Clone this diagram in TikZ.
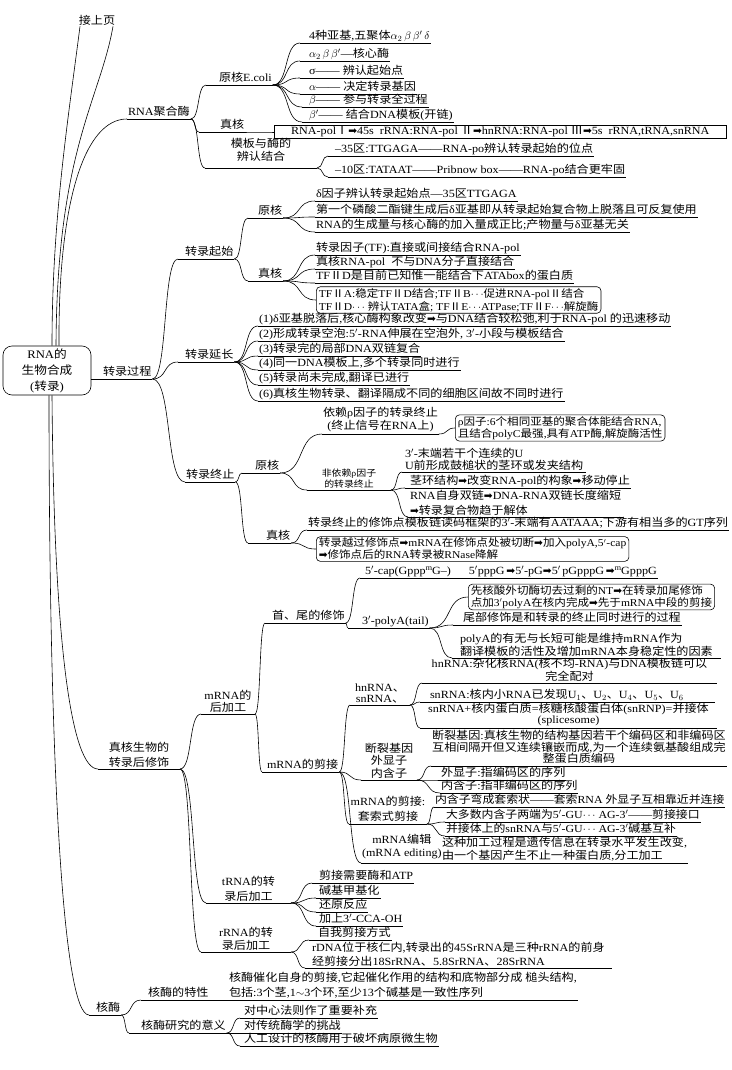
\documentclass[tikz,border=0pt]{standalone}
\usepackage{fontspec}
\setmainfont{Liberation Serif}[FakeStretch=1.1]
\newfontfamily\cjkfont{Noto Sans CJK SC}[FakeStretch=1.1]
\newfontfamily\symfont{DejaVu Sans}
\usetikzlibrary{calc}
\XeTeXinterchartokenstate=1
\chardef\cjkclass=17
\makeatletter
\newcommand\setcjkrange[2]{\count@=#1\relax
 \loop\XeTeXcharclass\count@=\cjkclass\relax
 \ifnum\count@<#2\relax\advance\count@ by 1\relax\repeat}
\makeatother
\setcjkrange{"2160}{"217F}
\setcjkrange{"3000}{"303F}
\setcjkrange{"4E00}{"9FFF}
\setcjkrange{"FF00}{"FFEF}
\XeTeXinterchartoks 0 \cjkclass = {\cjkfont}
\XeTeXinterchartoks 4095 \cjkclass = {\cjkfont}
\XeTeXinterchartoks \cjkclass 0 = {\rmfamily}
\XeTeXinterchartoks \cjkclass 4095 = {\rmfamily}
\newcommand\Ar{{\symfont\fontsize{10.5}{11}\selectfont ➡}}
\newcommand\cn[3][south west]{%
 \draw let \p1=(#2.south east), \p2=(#3.#1), \n1={0.6*(\x2-\x1)} in
 (\p1) .. controls +(\n1,0) and +(-\n1,0) .. (\p2);}
\newcommand\fs[1]{\fontsize{11}{#1}\selectfont}
\begin{document}
\begin{tikzpicture}[x=1pt,y=-1pt,line width=0.6pt,
  font=\fs{12.5},
  lf0/.style={anchor=south west,inner xsep=1pt,inner ysep=1pt,outer sep=0pt},
  lf/.style={lf0,text depth=2.5pt},
  mc/.style={lf0,align=center,inner ysep=2pt},
  ml/.style={lf0,align=left,inner ysep=2pt},
  bx/.style={draw,rounded corners=4pt,anchor=west,inner xsep=2.5pt,inner ysep=1.5pt,align=left,font=\fontsize{10.5}{12}\selectfont},
  sm/.style={font=\fontsize{9}{11}\selectfont}]
\fill[white] (0,0) rectangle (731,1070);
\useasboundingbox (0,0) rectangle (731,1070);

% ---------- head ----------
\node[inner sep=1pt] (jsy) at (97,20) {接上页};
\node[draw,rounded corners=9pt,minimum width=88pt,minimum height=49pt,align=center,inner sep=1pt,font=\fontsize{11.5}{16}\selectfont] (root) at (47,370.5) {RNA的\\生物合成\\(转录)};

% ---------- RNA聚合酶 ----------
\node[lf] (rp) at (127,119) {RNA聚合酶};
\node[lf] (pk) at (206,85) {\hspace{12pt}原核E.coli};
\node[lf] (a1) at (300,43) {\hspace{8pt}4种亚基,五聚体$\alpha_2\,\beta\,\beta'\,\delta$};
\node[lf] (a2) at (300,61) {\hspace{8pt}$\alpha_2\,\beta\,\beta'$—核心酶};
\node[lf] (a3) at (300,78) {\hspace{8pt}σ—— 辨认起始点};
\node[lf] (a4) at (300,94) {\hspace{8pt}$\alpha$—— 决定转录基因};
\node[lf] (a5) at (302,107) {\hspace{6pt}$\beta$—— 参与转录全过程};
\node[lf] (a6) at (302,122) {\hspace{6pt}$\beta'$—— 结合DNA模板(开链)};
\node[lf] (zh1) at (199,132) {\hspace{20pt}真核};
\node[bx,sharp corners,minimum width=452pt,align=center,font=\fontsize{11}{12}\selectfont] (polbox) at (274,132) {RNA-polⅠ\Ar{}45s\ \ rRNA:RNA-pol Ⅱ\Ar{}hnRNA:RNA-pol Ⅲ\Ar{}5s\ \ rRNA,tRNA,snRNA};
\node[mc,minimum width=112pt,inner ysep=7pt] (mb) at (205,168) {模板与酶的\\辨认结合};
\node[lf] (b1) at (328,156) {\hspace{6pt}–35区:TTGAGA——RNA-po辨认转录起始的位点};
\node[lf] (b2) at (328,177) {\hspace{6pt}–10区:TATAAT——Pribnow box——RNA-po结合更牢固};

% ---------- 转录过程 ----------
\node[lf] (zg) at (102,379) {转录过程\hspace{6pt}};
\node[lf] (qs) at (178,259) {\hspace{6pt}转录起始};
\node[lf] (qs1) at (248,218) {\hspace{9pt}原核};
\node[lf] (c1) at (315,201) {δ因子辨认转录起始点—35区TTGAGA};
\node[lf] (c2) at (315,217) {第一个磷酸二酯键生成后δ亚基即从转录起始复合物上脱落且可反复使用};
\node[lf] (c3) at (315,232) {RNA的生成量与核心酶的加入量成正比;产物量与δ亚基无关};
\node[lf] (qs2) at (248,281) {\hspace{9pt}真核};
\node[lf] (d1) at (315,255) {转录因子(TF):直接或间接结合RNA-pol};
\node[lf] (d2) at (315,269) {真核RNA-pol\ \ 不与DNA分子直接结合};
\node[lf] (d3) at (315,283) {TFⅡD是目前已知惟一能结合下ATAbox的蛋白质};
\node[bx,font=\fontsize{10.5}{13}\selectfont] (d4) at (316,300) {TFⅡA:稳定TFⅡD结合;TFⅡB$\cdots$促进RNA-polⅡ结合\\TFⅡD$\cdots$\ 辨认TATA盒; TFⅡE$\cdots$ATPase;TFⅡF$\cdots$解旋酶};

\node[lf] (yc) at (178,362) {\hspace{6pt}转录延长};
\node[lf] (e1) at (258,326) {(1)δ亚基脱落后,核心酶构象改变\Ar{}与DNA结合较松弛,利于RNA-pol 的迅速移动};
\node[lf] (e2) at (258,341) {(2)形成转录空泡:5$'$-RNA伸展在空泡外, 3$'$-小段与模板结合};
\node[lf] (e3) at (258,356) {(3)转录完的局部DNA双链复合};
\node[lf] (e4) at (258,370) {(4)同一DNA模板上,多个转录同时进行};
\node[lf] (e5) at (258,385) {(5)转录尚未完成,翻译已进行};
\node[lf] (e6) at (258,401) {(6)真核生物转录、翻译隔成不同的细胞区间故不同时进行};

\node[lf] (zz) at (185,482) {转录终止};
\node[lf] (zz1) at (242,473) {\hspace{12pt}原核\hspace{6pt}};
\node[mc,minimum width=112pt,font=\fs{13}] (zz1a) at (322,434) {依赖ρ因子的转录终止\\(终止信号在RNA上)};
\node[bx] (rho) at (455,428) {ρ因子:6个相同亚基的聚合体能结合RNA,\\且结合polyC最强,具有ATP酶,解旋酶活性};
\node[mc,sm,minimum width=84pt] (zz1b) at (307,490) {非依赖ρ因子\\的转录终止};
\node[ml,inner xsep=3pt,font=\fs{12}] (f1) at (402,472) {3$'$-末端若干个连续的U\\U前形成鼓槌状的茎环或发夹结构};
\node[lf] (f2) at (405,488) {\hspace{4pt}茎环结构\Ar{}改变RNA-pol的构象\Ar{}移动停止};
\node[ml,inner xsep=2pt,font=\fs{15}] (f3) at (408,517) {RNA自身双链\Ar{}DNA-RNA双链长度缩短\\\Ar{}转录复合物趋于解体};
\node[lf] (zz2) at (248,543) {\hspace{17pt}真核};
\node[lf] (g1) at (307,530) {转录终止的修饰点模板链读码框架的3$'$-末端有AATAAA;下游有相当多的GT序列};
\node[bx] (g2) at (316,549) {转录越过修饰点\Ar{}mRNA在修饰点处被切断\Ar{}加入polyA,5$'$-cap\\\Ar{}修饰点后的RNA转录被RNase降解};

% ---------- 真核生物的转录后修饰 ----------
\node[mc,minimum width=82pt,font=\fs{15}] (zs) at (98,769) {真核生物的\\转录后修饰};
\node[mc,minimum width=54pt,font=\fs{12}] (hj) at (201,714) {mRNA的\\后加工};
\node[lf] (sw) at (265,623) {\hspace{6pt}首、尾的修饰};
\node[lf] (cap) at (360,578) {\hspace{4pt}5$'$-cap(Gppp$^{\mathrm{m}}$G–)\hspace{18pt}5$'$pppG\,\Ar{}5$'$-pG\Ar{}5$'$\,pGpppG\,\Ar{}$^{\mathrm{m}}$GpppG};
\node[lf] (pa) at (348,628) {\hspace{13pt}3$'$-polyA(tail)\hspace{12pt}};
\node[bx,font=\fontsize{10.5}{11.5}\selectfont] (pbox) at (468,597) {先核酸外切酶切去过剩的NT\Ar{}在转录加尾修饰\\点加3$'$polyA在核内完成\Ar{}先于mRNA中段的剪接};
\node[lf] (tail1) at (453,625) {\hspace{9pt}尾部修饰是和转录的终止同时进行的过程};
\node[ml,inner xsep=8pt,font=\fs{11.5}] (tail2) at (452,658) {polyA的有无与长短可能是维持mRNA作为\\翻译模板的活性及增加mRNA本身稳定性的因素};
\node[lf] (jj) at (262,772) {\hspace{4pt}mRNA的剪接};
\node[mc,minimum width=60pt,font=\fs{11}] (hs) at (350,705) {hnRNA、\\snRNA、};
\node[mc,minimum width=295pt,font=\fs{11}] (h1) at (422,683) {hnRNA:杂化核RNA(核不均-RNA)与DNA模板链可以\\完全配对};
\node[lf,text width=293pt] (h2) at (420,702) {\hspace{9pt}snRNA:核内小RNA已发现U$_1$、U$_2$、U$_4$、U$_5$、U$_6$};
\node[mc,minimum width=297pt,font=\fs{11}] (h3) at (420,728) {snRNA+核内蛋白质=核糖核酸蛋白体(snRNP)=并接体\\(splicesome)};
\node[mc,minimum width=56pt] (dl) at (361,780) {断裂基因\\外显子\\内含子};
\node[mc,font=\fs{11.5}] (dl1) at (431,766) {断裂基因:真核生物的结构基因若干个编码区和非编码区\\互相间隔开但又连续镶嵌而成,为一个连续氨基酸组成完\\整蛋白质编码};
\node[lf] (dl2) at (440,780) {外显子:指编码区的序列};
\node[lf] (dl3) at (440,793) {内含子:指非编码区的序列};
\node[mc,minimum width=78pt,inner ysep=3pt,font=\fs{15}] (ts) at (349,824) {mRNA的剪接:\\套索式剪接};
\node[lf,font=\fontsize{10.8}{12}\selectfont] (t1) at (434,807) {内含子弯成套索状——套索RNA 外显子互相靠近并连接};
\node[lf,font=\fontsize{10.8}{12}\selectfont] (t2) at (445,822) {大多数内含子两端为5$'$-GU$\cdots$ AG-3$'$——剪接接口};
\node[lf,font=\fontsize{10.8}{12}\selectfont] (t3) at (445,836) {并接体上的snRNA与5$'$-GU$\cdots$ AG-3$'$碱基互补};
\node[mc,minimum width=80pt,inner ysep=4pt,font=\fs{13}] (bj) at (361,863) {mRNA编辑\\(mRNA editing)};
\node[ml,font=\fs{13}] (bj1) at (441,863) {这种加工过程是遗传信息在转录水平发生改变,\\由一个基因产生不止一种蛋白质,分工加工};
\node[mc,minimum width=85pt,font=\fs{15}] (tR) at (206,903) {tRNA的转\\录后加工};
\node[lf] (tr1) at (312,883) {\hspace{6pt}剪接需要酶和ATP};
\node[lf] (tr2) at (316,898) {\hspace{2pt}碱基甲基化};
\node[lf] (tr3) at (316,912) {\hspace{2pt}还原反应};
\node[lf] (tr4) at (316,926) {\hspace{2pt}加上3$'$-CCA-OH};
\node[mc,minimum width=90pt,font=\fs{13}] (rR) at (201,952) {rRNA的转\\录后加工};
\node[lf] (rr1) at (309,940) {\hspace{8pt}自我剪接方式};
\node[ml,inner xsep=7pt,font=\fs{14}] (rr2) at (305,968) {rDNA位于核仁内,转录出的45SrRNA是三种rRNA的前身\\经剪接分出18SrRNA、5.8SrRNA、28SrRNA};

% ---------- 核酶 ----------
\node[lf] (hm) at (89,1015) {\hspace{6pt}核酶\hspace{3pt}};
\node[lf] (hm1) at (141,1000) {\hspace{6pt}核酶的特性};
\node[ml,font=\fs{15}] (hm1p) at (228,1000) {核酶催化自身的剪接,它起催化作用的结构和底物部分成 槌头结构,\\包括:3个茎,1$\sim$3个环,至少13个碱基是一致性序列};
\node[lf] (hm2) at (129,1033) {\hspace{11pt}核酶研究的意义};
\node[lf] (hm2a) at (240,1018) {\hspace{3pt}对中心法则作了重要补充};
\node[lf] (hm2b) at (240,1033) {\hspace{3pt}对传统酶学的挑战};
\node[lf] (hm2c) at (240,1046) {\hspace{3pt}人工设计的核酶用于破坏病原微生物};

% ---------- underlines ----------
\foreach \n in {rp,pk,a1,a2,a3,a4,a5,a6,zh1,mb,b1,b2,zg,qs,qs1,c1,c2,c3,qs2,d1,d2,d3,yc,e1,e2,e3,e4,e5,e6,zz,zz1,zz1a,zz1b,f1,f2,f3,zz2,g1,zs,hj,sw,cap,pa,tail1,tail2,jj,hs,h1,h2,h3,dl,dl1,dl2,dl3,ts,t1,t2,t3,bj,bj1,tR,tr1,tr2,tr3,tr4,rR,rr1,rr2,hm,hm1,hm1p,hm2,hm2a,hm2b,hm2c}
  \draw (\n.south west) -- (\n.south east);
\draw (hm1.south east) -- (hm1p.south west);
\draw (bj.south east) -- (bj1.south west);
\draw (root.east |- zg.south west) -- (zg.south west);

% ---------- long connectors ----------
\draw ([xshift=-17pt]jsy.south) .. controls (68,120) and (52,220) .. ([xshift=5pt]root.north);
\draw ([xshift=16pt]jsy.south) .. controls (100,100) and (57,150) .. ([xshift=9pt]root.north);
\draw ([xshift=12pt]root.north) .. controls (58,200) and (85,119) .. (rp.south west);
\draw ([xshift=2pt]root.south) .. controls (49,750) and (62,1015) .. (hm.south west);
\draw ([xshift=5pt]root.south) .. controls (54,650) and (72,769) .. (zs.south west);

% ---------- branch connectors ----------
\cn{rp}{pk} \cn{rp}{zh1} \cn{rp}{mb}
\foreach \c in {a1,a2,a3,a4,a5,a6} {\cn{pk}{\c}}
\cn[west]{zh1}{polbox}
\cn{mb}{b1} \cn{mb}{b2}
\cn{zg}{qs} \cn{zg}{yc} \cn{zg}{zz}
\cn{qs}{qs1} \cn{qs}{qs2}
\foreach \c in {c1,c2,c3} {\cn{qs1}{\c}}
\foreach \c in {d1,d2,d3} {\cn{qs2}{\c}}
\cn[west]{qs2}{d4}
\foreach \c in {e1,e2,e3,e4,e5,e6} {\cn{yc}{\c}}
\cn{zz}{zz1} \cn{zz}{zz2}
\cn{zz1}{zz1a} \cn{zz1}{zz1b} \cn[west]{zz1a}{rho}
\foreach \c in {f1,f2,f3} {\cn{zz1b}{\c}}
\cn{zz2}{g1} \cn[west]{zz2}{g2}
\cn{zs}{hj} \cn{zs}{tR} \cn{zs}{rR}
\cn{hj}{sw} \cn{hj}{jj}
\cn{sw}{cap} \cn{sw}{pa}
\cn[west]{pa}{pbox} \cn{pa}{tail1} \cn{pa}{tail2}
\cn{jj}{hs} \cn{jj}{dl} \cn{jj}{ts} \cn{jj}{bj}
\foreach \c in {h1,h2,h3} {\cn{hs}{\c}}
\foreach \c in {dl1,dl2,dl3} {\cn{dl}{\c}}
\foreach \c in {t1,t2,t3} {\cn{ts}{\c}}
\foreach \c in {tr1,tr2,tr3,tr4} {\cn{tR}{\c}}
\cn{rR}{rr1} \cn{rR}{rr2}
\cn{hm}{hm1} \cn{hm}{hm2}
\foreach \c in {hm2a,hm2b,hm2c} {\cn{hm2}{\c}}
\end{tikzpicture}
\end{document}
